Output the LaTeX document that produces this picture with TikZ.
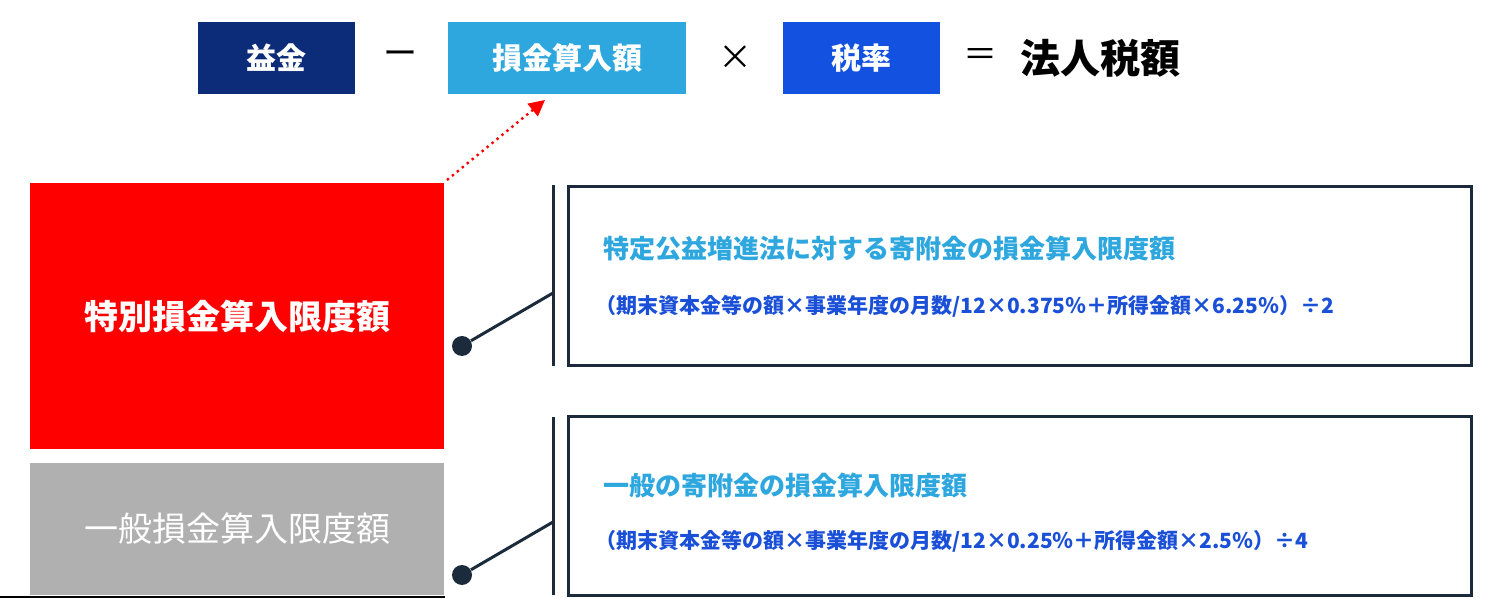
\documentclass[tikz,border=0pt]{standalone}
\usepackage{fontspec}
\setmainfont{Noto Sans CJK JP}
\newfontfamily\jpb{Noto Sans CJK JP}[BoldFont={* Bold}]
\usetikzlibrary{arrows.meta}
\definecolor{navy}{HTML}{0C2B78}
\definecolor{lblue}{HTML}{2EA7DF}
\definecolor{mblue}{HTML}{1352E0}
\definecolor{fblue}{HTML}{1A4FD8}
\definecolor{dline}{HTML}{1C2B3B}
\definecolor{gbox}{HTML}{B0B0B0}
\definecolor{rbox}{HTML}{FF0000}
\begin{document}
\begin{tikzpicture}[x=0.5pt,y=-0.5pt,
  topbox/.style={draw=none,minimum width=0pt,inner sep=0pt,text=white,font=\bfseries\fontsize{15}{15}\selectfont},
  op/.style={inner sep=0pt,font=\fontsize{17}{17}\selectfont},
  ttl/.style={anchor=west,inner sep=0pt,text=lblue,font=\bfseries\fontsize{13}{13}\selectfont},
  frm/.style={anchor=west,inner sep=0pt,text=fblue,font=\bfseries\fontsize{10.5}{10.5}\selectfont},
  conn/.style={draw=dline,line width=1.5pt},
  dot/.style={circle,fill=dline,inner sep=0pt,minimum size=10pt}]
\useasboundingbox (0,0) rectangle (1500,598);
\fill[navy] (198,22) rectangle (355,94);
\node[topbox] (eki) at (276.5,58) {益金};
\node[op] (m) at (400,58) {ー};
\fill[lblue] (448,22) rectangle (686,94);
\node[topbox] (son) at (567,58) {損金算入額};
\node[op] (x) at (735,58) {×};
\fill[mblue] (783,22) rectangle (940,94);
\node[topbox] (zei) at (861.5,58) {税率};
\node[op] (eq) at (980,58) {＝};
\node[anchor=west,inner sep=0pt,font=\bfseries\fontsize{20}{20}\selectfont] (hz) at (1020,58) {法人税額};
\fill[rbox] (30,183) rectangle (444,449);
\node[inner sep=0pt,text=white,font=\bfseries\fontsize{17}{17}\selectfont] (tb) at (237,316) {特別損金算入限度額};
\fill[gbox] (30,463) rectangle (444,595);
\node[inner sep=0pt,text=white,font=\fontsize{17}{17}\selectfont] (ip) at (237,529) {一般損金算入限度額};
\draw[line width=1.5pt] (0,597) -- (445,597);
\coordinate (as) at (447,180); \coordinate (ae) at (545,100);
\draw[rbox,line width=1.2pt,dotted,-{Triangle[width=8pt,length=8pt]}] (as) -- (ae);
% box 1
\node[dot] (d1) at (462,346) {};
\coordinate (c1) at (553,293);
\draw[conn] (d1) -- (c1);
\draw[conn] (553,185) -- (553,366);
\draw[draw=dline,line width=1.5pt] (568,187) rectangle (1471,366);
\node[ttl] (t1) at (603,249) {特定公益増進法に対する寄附金の損金算入限度額};
\node[frm] (f1) at (595,306) {（期末資本金等の額×事業年度の月数/12×0.375％＋所得金額×6.25％）÷2};
% box 2
\node[dot] (d2) at (462,575) {};
\coordinate (c2) at (553,522);
\draw[conn] (d2) -- (c2);
\draw[conn] (553,417) -- (553,595);
\draw[draw=dline,line width=1.5pt] (568,417) rectangle (1471,595);
\node[ttl] (t2) at (603,486) {一般の寄附金の損金算入限度額};
\node[frm] (f2) at (595,541) {（期末資本金等の額×事業年度の月数/12×0.25％＋所得金額×2.5％）÷4};
\end{tikzpicture}
\end{document}
